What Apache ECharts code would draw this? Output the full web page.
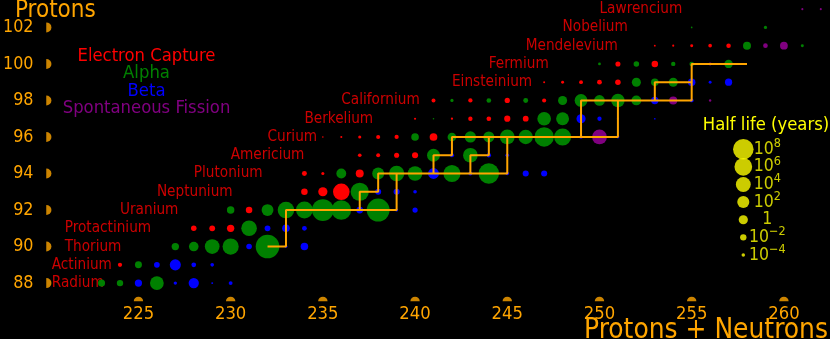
<!DOCTYPE html>
<html><head><meta charset="utf-8">
<script src="https://cdn.jsdelivr.net/npm/echarts@6/dist/echarts.min.js"></script>
<style>html,body{margin:0;padding:0;background:#000;}#c{width:830px;height:339px;}</style>
</head><body><div id="c"></div>
<script>
// ---- data: [mass number A, proton number Z, log10(half life in years)] ----
const electronCapture = [
  [224,89,-3.5],
  [228,91,-2.6],[229,91,-2.4],[230,91,-1.3],
  [231,92,-1.9],
  [234,93,-1.9],[235,93,0.0],[236,93,5.2],
  [234,94,-3.0],[235,94,-4.3],[237,94,-0.9],
  [237,95,-3.9],[238,95,-3.7],[239,95,-2.9],[240,95,-2.2],
  [235,96,-5.4],[236,96,-5.0],[237,96,-4.3],[238,96,-3.6],[239,96,-3.5],[241,96,-1.05],
  [240,97,-5.0],[242,97,-4.9],[243,97,-3.4],[244,97,-3.2],[245,97,-2.1],[246,97,-2.4],
  [241,98,-3.7],[243,98,-3.45],[245,98,-2.8],[247,98,-3.6],
  [247,99,-5.1],[248,99,-4.4],[249,99,-3.8],[250,99,-3.1],[251,99,-2.6],
  [251,100,-2.9],[253,100,-1.9],
  [253,101,-5.2],[254,101,-5.0],[255,101,-4.4],[256,101,-3.9],[257,101,-3.3]
];
const alpha = [
  [223,88,-1.5],[224,88,-2.0],[226,88,3.2],
  [225,89,-1.56],
  [227,90,-1.3],[228,90,0.28],[229,90,3.87],[230,90,4.88],[232,90,10.15],
  [231,91,4.52],
  [230,92,-1.24],[232,92,1.84],[233,92,5.2],[234,92,5.39],[235,92,8.85],[236,92,7.37],[238,92,9.65],
  [237,93,6.33],
  [236,94,0.46],[238,94,1.94],[239,94,4.38],[240,94,3.82],[242,94,5.57],[244,94,7.9],
  [241,95,2.64],[243,95,3.87],
  [240,96,-1.13],[242,96,-0.35],[243,96,1.46],[244,96,1.26],[245,96,3.93],[246,96,3.67],[247,96,7.19],[248,96,5.53],
  [241,97,-5.4],[247,97,3.14],[248,97,2.6],
  [242,98,-4.2],[244,98,-3.2],[246,98,-3.0],[248,98,-0.1],[249,98,2.55],[250,98,1.12],[251,98,2.95],[252,98,0.45],
  [252,99,-0.1],[253,99,-1.2],[254,99,-0.1],
  [250,100,-4.5],[252,100,-2.6],[254,100,-3.4],[255,100,-3.3],[257,100,-0.6],
  [258,101,-0.85],[261,101,-4.4],
  [255,102,-5.3],[259,102,-4.2]
];
const beta = [
  [225,88,-1.39],[227,88,-4.1],[228,88,0.76],[229,88,-5.12],[230,88,-3.75],
  [226,89,-2.47],[227,89,1.34],[228,89,-3.15],[229,89,-3.92],
  [231,90,-2.54],[233,90,-4.37],[234,90,-1.18],
  [232,91,-2.44],[233,91,-1.13],[234,91,-3.12],
  [237,92,-1.73],[239,92,-4.35],[240,92,-2.79],
  [238,93,-2.24],[239,93,-2.19],[240,93,-3.93],
  [241,94,1.16],[243,94,-3.6],[245,94,-3.9],[246,94,-2.2],[247,94,-2.2],
  [242,95,-3.5],[244,95,-3.4],[245,95,-3.9],
  [249,96,-3.91],[251,96,-4.5],
  [249,97,-0.04],[250,97,-3.44],[251,97,-4.9],[253,97,-5.3],
  [253,98,-1.3],[255,98,-3.79],
  [255,99,-1.2],[256,99,-4.4],[257,99,-1.4]
];
const fission = [
  [250,96,3.92],
  [254,98,-0.78],[256,98,-4.8],
  [256,100,-4.4],
  [259,101,-3.2],[260,101,-1.0],
  [261,103,-5.0],[262,103,-5.0]
];
// transmutation paths (neutron capture = step in A, beta decay = step in Z)
const paths = [
  [[232,90],[233,90],[233,92],[239,92],[239,94],[245,94],[245,96],[251,96],[251,98],[255,98],[255,100],[258,100]],
  [[237,92],[237,93],[238,93],[238,94],[239,94]],
  [[241,94],[241,95],[242,95],[242,96],[245,96]],
  [[243,94],[243,95],[244,95],[244,96]],
  [[249,96],[249,98],[251,98]],
  [[253,98],[253,99],[255,99]]
];
const elementNames = ['Radium','Actinium','Thorium','Protactinium','Uranium','Neptunium','Plutonium','Americium','Curium','Berkelium','Californium','Einsteinium','Fermium','Mendelevium','Nobelium','Lawrencium'];
const elementZ = [88,89,90,91,92,93,94,95,96,97,98,99,100,101,102,103];
const elementLabelA = [220.3,220.3,221,221,224,226,228,230,232,234,236,242,244,246,248,250];
const xTicks = [225,230,235,240,245,250,255,260];
const yTicks = [88,90,92,94,96,98,100,102];
const legendHalfLife = [8,6,4,2,0,-2,-4];
const legendHalfLifeText = ['{b|10}{s|8}','{b|10}{s|6}','{b|10}{s|4}','{b|10}{s|2}','{b|1}','{b|10}{s|\u22122}','{b|10}{s|\u22124}'];
const modeNames = ['Electron Capture','Alpha','Beta','Spontaneous Fission'];

// ---- styling ----
const F = '"DejaVu Sans Condensed", "DejaVu Sans", sans-serif';
const ORANGE = '#ffa500', YELLOW = '#ffff00';
const modeColors = ['#ff0000','#008000','#0000ff','#800080'];
const sizeFor = L => Math.max(1.2, 9.2 + 1.42 * L);

const series = [];
series.push({
  type:'scatter', silent:true, animation:false, z:1,
  data: elementZ.map((z,i)=>[elementLabelA[i], z, elementNames[i]]),
  symbolSize:0.01, itemStyle:{color:'transparent'},
  label:{show:true, position:'right', distance:0, formatter:p=>p.data[2], color:'#ff0000', fontFamily:F, fontSize:15.2}
});
[electronCapture, alpha, beta, fission].forEach((d,i)=>{
  series.push({type:'scatter', name:modeNames[i], data:d, silent:true, animation:false, z:2,
    symbolSize:v=>sizeFor(v[2]), itemStyle:{color:modeColors[i], opacity:1}});
});
paths.forEach(p=>{
  series.push({type:'line', data:p, symbol:'none', silent:true, animation:false, z:3,
    lineStyle:{color:ORANGE, width:2}});
});
// semicircular tick marks
series.push({type:'scatter', data:yTicks.map(z=>[220,z]), silent:true, animation:false, clip:false, z:3,
  symbol:'path://M0,0 A1,1 0 0 1 0,2 Z', symbolSize:[5.2,10], symbolOffset:[2.6,0], itemStyle:{color:ORANGE}});
series.push({type:'scatter', data:xTicks.map(a=>[a,87]), silent:true, animation:false, clip:false, z:3,
  symbol:'path://M0,1 A1,1 0 0 1 2,1 Z', symbolSize:[9.4,4.7], symbolOffset:[0,-2.35], itemStyle:{color:ORANGE}});
// half-life size legend
series.push({type:'scatter', xAxisIndex:1, yAxisIndex:1, silent:true, animation:false, z:3,
  data: legendHalfLife.map((L,i)=>[0,L,i]), symbolSize:v=>sizeFor(v[1]), itemStyle:{color:YELLOW},
  label:{show:true, position:'inside', offset:[24,0], formatter:p=>legendHalfLifeText[p.data[2]],
    rich:{ b:{fontFamily:F, fontSize:17.5, color:YELLOW, verticalAlign:'bottom', lineHeight:18},
           s:{fontFamily:F, fontSize:12.5, color:YELLOW, verticalAlign:'bottom', lineHeight:13, padding:[0,0,8,0]} }}
});

const T = (text, pos, color, size) => Object.assign({text, padding:0, itemGap:0,
  textStyle:{color, fontFamily:F, fontSize:size, fontWeight:'normal', lineHeight:size}}, pos);
const titles = [
  T('Protons', {left:15, top:-1.1}, ORANGE, 24),
  T('Protons + Neutrons', {right:2, top:316.9}, ORANGE, 27.8),
  T('Half life (years)', {left:766, textAlign:'center', top:116.4}, YELLOW, 18.3)
];
const legendTops = [47.0, 64.4, 81.9, 99.4];
modeNames.forEach((n,i)=>titles.push(T(n, {left:146.5, textAlign:'center', top:legendTops[i]}, modeColors[i], 18.3)));

const chart = echarts.init(document.getElementById('c'), null, {renderer:'canvas'});
chart.setOption({
  backgroundColor:'#000',
  animation:false,
  title: titles,
  grid:[
    {left:46.05, width:784.1, top:-1.53, height:302.89},
    {left:733.3, width:20, top:149.2, height:105.8}
  ],
  xAxis:[
    {type:'value', min:220, max:262.5, interval:5, splitLine:{show:false}, axisLine:{show:false}, axisTick:{show:false},
     axisLabel:{color:ORANGE, fontFamily:F, fontSize:18.3, margin:4.2, lineHeight:18.3, showMaxLabel:false,
       formatter:v=>(xTicks.indexOf(v)>=0? String(v):'')}},
    {type:'value', gridIndex:1, min:-1, max:1, show:false}
  ],
  yAxis:[
    {type:'value', min:87, max:103.5, interval:1, splitLine:{show:false}, axisLine:{show:false}, axisTick:{show:false},
     axisLabel:{color:ORANGE, fontFamily:F, fontSize:17.8, margin:12.7, showMaxLabel:false,
       formatter:v=>(yTicks.indexOf(v)>=0? String(v):'')}},
    {type:'value', gridIndex:1, min:-4, max:8, show:false}
  ],
  series: series
});
</script></body></html>
